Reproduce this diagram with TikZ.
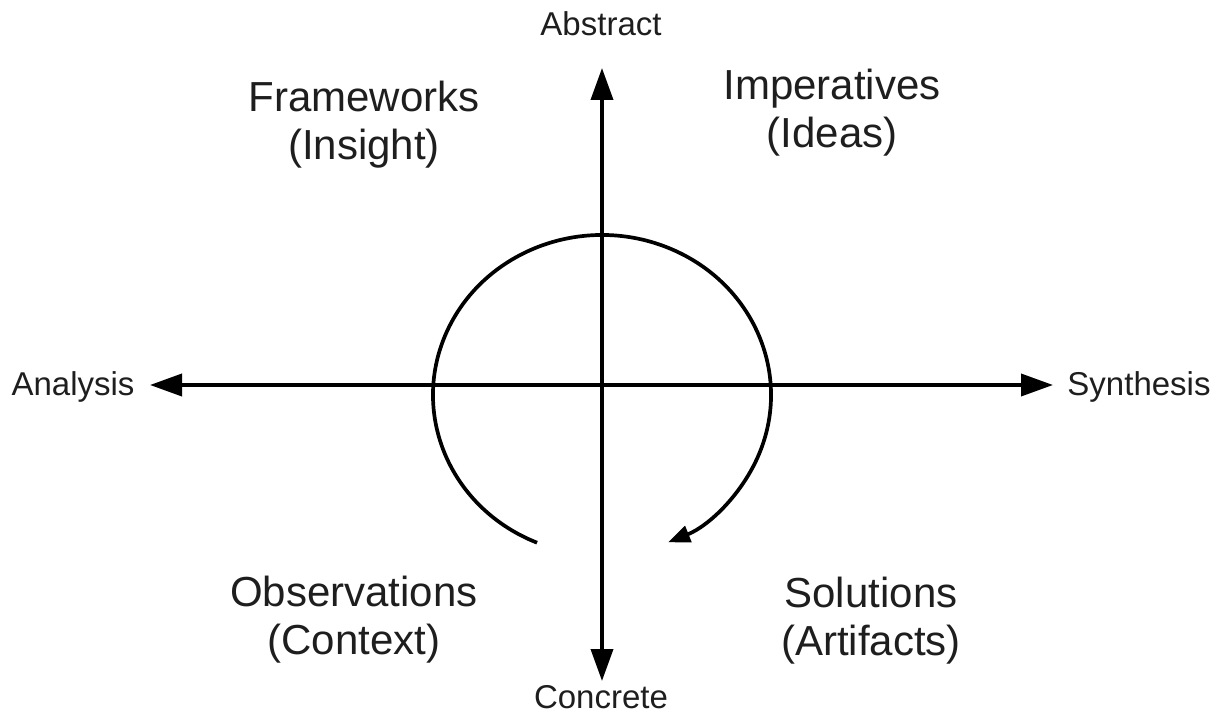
\documentclass[tikz,border=0pt]{standalone}
\usepackage{fontspec}
\setmainfont{Liberation Sans}
\usetikzlibrary{calc,arrows.meta}
\definecolor{inkcolor}{HTML}{000000}
\definecolor{labelcolor}{HTML}{1E1E1E}
\tikzstyle{axis} =[
    draw=inkcolor,
    line width=3.7pt,
    {Triangle[length=32pt,width=22pt]}-{Triangle[length=32pt,width=22pt]}
    ]
\tikzstyle{cycle} =[
    draw=inkcolor,
    line width=3.7pt,
    -{Triangle[length=22pt,width=17pt]}
    ]
\tikzstyle{pole} =[
    text=labelcolor,
    font=\fontsize{33}{38}\selectfont,
    inner sep=0pt
    ]
\tikzstyle{quadrant} =[
    text=labelcolor,
    font=\fontsize{42}{48}\selectfont,
    align=center,
    inner sep=0pt
    ]

\begin{document}
\begin{tikzpicture}[x=1pt,y=1pt]
\useasboundingbox (0,0) rectangle (1218,713);

% axes
\coordinate (hub) at (602,328);
\coordinate (top) at (602,645);
\coordinate (bottom) at (602,32);
\coordinate (left) at (150,328);
\coordinate (right) at (1053,328);
\draw[axis] (bottom) -- (top);
\draw[axis] (left) -- (right);

% the loop
\coordinate (loopcentre) at (602,318);
\coordinate (loopstart) at ($(loopcentre)+(247.4:169pt and 160pt)$);
\draw[cycle] (loopstart) arc[start angle=247.4, end angle=-67, x radius=169pt, y radius=160pt];

% poles
\node[pole] (abstract) at (601,689) {Abstract};
\node[pole] (concrete) at (601,16) {Concrete};
\node[pole] (analysis) at (73,326) {Analysis};
\node[pole] (synthesis) at (1139,326) {Synthesis};

% quadrants
\node[quadrant] (frameworks) at (364,588) {Frameworks\\(Insight)};
\node[quadrant] (imperatives) at (832,600) {Imperatives\\(Ideas)};
\node[quadrant] (observations) at (354,93) {Observations\\(Context)};
\node[quadrant] (solutions) at (871,92) {Solutions\\(Artifacts)};
\end{tikzpicture}
\end{document}
